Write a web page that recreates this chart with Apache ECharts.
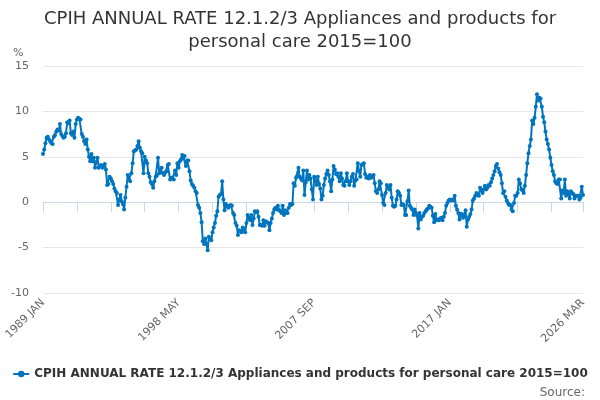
<!DOCTYPE html>
<html>
<head>
<meta charset="utf-8">
<script src="https://cdn.jsdelivr.net/npm/echarts@6/dist/echarts.min.js"></script>
<style>
  html, body { margin: 0; padding: 0; background: #fff; }
  #chart { width: 600px; height: 400px; }
</style>
</head>
<body>
<div id="chart"></div>
<script>
// 数据：每年12个月的年率（%），从1989年1月到2026年3月
const startYear = 1989;
const monthNames = ["JAN", "FEB", "MAR", "APR", "MAY", "JUN", "JUL", "AUG", "SEP", "OCT", "NOV", "DEC"];

const y1989 = [5.3, 5.8, 6.5, 7.1, 7.2, 6.9, 6.7, 6.5, 6.4, 7.2, 7.4, 7.8];
const y1990 = [8.0, 7.9, 8.6, 7.5, 7.3, 7.1, 7.2, 7.6, 8.8, 8.7, 9.0, 7.6];
const y1991 = [7.4, 7.8, 7.1, 8.6, 9.1, 9.3, 9.2, 9.1, 7.5, 7.2, 6.7, 6.4];
const y1992 = [6.9, 5.8, 5.0, 4.5, 5.3, 4.5, 4.9, 3.8, 4.4, 4.9, 3.8, 4.0];
const y1993 = [4.1, 3.8, 4.0, 4.2, 3.6, 1.9, 2.0, 2.8, 2.6, 2.3, 2.0, 1.5];
const y1994 = [1.2, 1.0, -0.3, 0.3, 0.8, 0.1, -0.2, -0.8, 0.5, 1.7, 3.0, 2.5];
const y1995 = [2.3, 3.2, 4.3, 5.6, 5.7, 5.8, 6.2, 6.7, 6.0, 5.6, 5.4, 3.2];
const y1996 = [5.0, 4.6, 4.3, 3.2, 2.8, 2.2, 2.0, 1.6, 2.3, 2.8, 2.9, 4.9];
const y1997 = [3.2, 3.6, 3.8, 3.2, 3.0, 3.3, 3.4, 4.1, 4.2, 2.5, 2.7, 2.6];
const y1998 = [2.5, 3.5, 3.0, 4.3, 3.8, 4.5, 4.7, 5.2, 4.9, 5.1, 4.0, 4.6];
const y1999 = [4.6, 3.4, 2.4, 2.0, 1.8, 1.6, 1.2, 1.0, -0.3, -0.6, -1.2, -2.2];
const y2000 = [-4.3, -4.6, -4.0, -4.6, -5.3, -3.8, -4.0, -4.2, -3.3, -2.8, -2.3, -1.5];
const y2001 = [-1.0, 0.6, 0.8, 0.9, 2.3, 0.3, -0.9, -0.2, -0.4, -0.6, -0.4, -0.3];
const y2002 = [-0.4, -1.2, -1.4, -2.3, -2.6, -3.6, -3.1, -3.2, -3.3, -2.8, -3.0, -3.3];
const y2003 = [-2.3, -1.4, -1.7, -2.0, -1.4, -2.5, -1.8, -1.0, -1.1, -1.0, -1.6, -2.5];
const y2004 = [-2.5, -2.6, -2.0, -2.6, -2.1, -2.2, -2.3, -3.1, -2.3, -1.8, -1.2, -0.8];
const y2005 = [-0.6, -0.8, -0.4, -0.9, -1.0, -1.2, -0.4, -1.4, -0.9, -1.2, -1.2, -0.6];
const y2006 = [-0.2, -0.3, -0.2, 2.1, 1.8, 2.7, 2.9, 3.8, 2.8, 2.6, 2.4, 3.5];
const y2007 = [0.8, 2.2, 3.5, 2.5, 3.0, 2.6, 1.4, 0.3, 2.8, 2.4, 1.9, 2.8];
const y2008 = [2.0, 1.5, 0.3, 0.7, 1.9, 2.6, 3.1, 3.5, 3.0, 2.3, 1.2, 2.5];
const y2009 = [4.0, 3.6, 3.1, 3.2, 2.8, 2.3, 3.2, 2.6, 1.9, 1.8, 2.3, 3.2];
const y2010 = [2.3, 1.9, 2.3, 2.8, 3.1, 1.8, 2.4, 2.5, 4.3, 3.4, 2.8, 4.1];
const y2011 = [4.2, 4.3, 3.1, 2.7, 2.8, 2.6, 3.0, 2.7, 2.8, 3.0, 2.1, 1.2];
const y2012 = [1.0, 1.4, 2.3, 2.1, 0.8, -0.1, -0.3, 1.0, 1.9, 1.6, 1.4, 1.9];
const y2013 = [0.5, -0.4, -0.5, -0.4, 0.3, 1.2, 1.0, 0.7, -0.3, -0.2, -0.3, -1.4];
const y2014 = [-1.4, 0.1, 1.3, -0.4, -0.6, -0.8, -1.4, -0.8, -1.2, -1.5, -2.9, -1.2];
const y2015 = [-1.9, -1.6, -1.5, -1.2, -1.0, -0.8, -0.7, -0.4, -0.5, -0.6, -1.5, -2.2];
const y2016 = [-1.3, -2.0, -1.9, -2.0, -1.8, -1.7, -2.0, -1.6, -1.2, -0.4, -0.1, 0.2];
const y2017 = [0.3, 0.2, 0.3, 0.2, 0.7, -0.4, -0.8, -1.2, -1.9, -1.3, -1.3, -1.7];
const y2018 = [-1.5, -0.9, -2.7, -1.9, -1.6, -1.3, -0.8, 0.2, 0.4, 0.7, 1.0, 0.8];
const y2019 = [0.7, 1.6, 1.3, 1.0, 1.4, 1.8, 1.4, 1.6, 1.9, 1.8, 2.2, 2.6];
const y2020 = [3.0, 3.4, 4.0, 4.2, 3.7, 3.3, 3.0, 2.1, 1.0, 1.2, 0.6, 0.2];
const y2021 = [-0.1, -0.3, -0.3, -0.8, -1.0, -0.1, 0.7, 0.7, 1.0, 2.5, 2.1, 1.4];
const y2022 = [1.4, 1.0, 1.8, 3.0, 4.3, 5.4, 6.2, 6.9, 9.0, 8.6, 9.3, 10.5];
const y2023 = [11.9, 11.2, 11.5, 11.4, 10.5, 9.4, 8.8, 7.8, 6.9, 6.4, 5.8, 4.9];
const y2024 = [4.1, 3.4, 3.0, 2.3, 2.1, 2.0, 2.5, 2.5, 0.4, 1.3, 1.0, 2.5];
const y2025 = [0.7, 1.2, 0.9, 0.4, 1.2, 1.0, 0.9, 0.4, 0.7, 0.7, 0.7, 0.3];
const y2026 = [0.5, 1.7, 0.8];

const years = [y1989, y1990, y1991, y1992, y1993, y1994, y1995, y1996, y1997, y1998,
  y1999, y2000, y2001, y2002, y2003, y2004, y2005, y2006, y2007, y2008,
  y2009, y2010, y2011, y2012, y2013, y2014, y2015, y2016, y2017, y2018,
  y2019, y2020, y2021, y2022, y2023, y2024, y2025, y2026];

// 拼成类目和数值
const categories = [];
const values = [];
years.forEach((arr, k) => {
  arr.forEach((v, m) => {
    categories.push((startYear + k) + " " + monthNames[m]);
    values.push(v);
  });
});
const lastIndex = categories.length - 1;

const seriesName = "CPIH ANNUAL RATE 12.1.2/3 Appliances and products for personal care 2015=100";
const lineColor = "#0075bf";
const font = "DejaVu Sans";

const chart = echarts.init(document.getElementById("chart"));
chart.setOption({
  animation: false,
  title: [
    {
      text: "CPIH ANNUAL RATE 12.1.2/3 Appliances and products for\npersonal care 2015=100",
      left: "center",
      top: 3,
      textStyle: { fontFamily: font, fontSize: 18, fontWeight: "normal", color: "#333", lineHeight: 23 },
    },
    {
      text: "%",
      left: 8,
      top: 43,
      textStyle: { fontFamily: font, fontSize: 11, fontWeight: "normal", color: "#666" },
    },
    {
      text: "Source:",
      right: 10,
      top: 382,
      textStyle: { fontFamily: font, fontSize: 12, fontWeight: "normal", color: "#666" },
    },
  ],
  legend: {
    top: 363,
    left: "center",
    itemWidth: 16,
    itemHeight: 8,
    itemGap: 5,
    textStyle: { fontFamily: font, fontSize: 12, fontWeight: "bold", color: "#333" },
    data: [seriesName],
  },
  grid: { left: 43, right: 17, top: 66, bottom: 107, containLabel: false },
  xAxis: {
    type: "category",
    data: categories,
    boundaryGap: false,
    axisLine: { lineStyle: { color: "#ccd6eb" } },
    axisTick: {
      length: 10,
      lineStyle: { color: "#ccd6eb" },
      interval: (i) => i % 28 === 0 || i === lastIndex,
    },
    axisLabel: {
      rotate: 45,
      color: "#666",
      fontFamily: font,
      fontSize: 11,
      margin: 8,
      interval: (i) => i % 112 === 0 || i === lastIndex,
    },
    splitLine: { show: false },
  },
  yAxis: {
    type: "value",
    min: -10,
    max: 15,
    interval: 5,
    axisLine: { show: false },
    axisTick: { show: false },
    axisLabel: { color: "#666", fontFamily: font, fontSize: 11, margin: 14 },
    splitLine: { lineStyle: { color: "#e6e6e6" } },
  },
  series: [
    {
      name: seriesName,
      type: "line",
      data: values,
      showAllSymbol: true,
      symbol: "circle",
      symbolSize: 4,
      itemStyle: { color: lineColor },
      lineStyle: { color: lineColor, width: 2 },
    },
  ],
});
</script>
</body>
</html>
